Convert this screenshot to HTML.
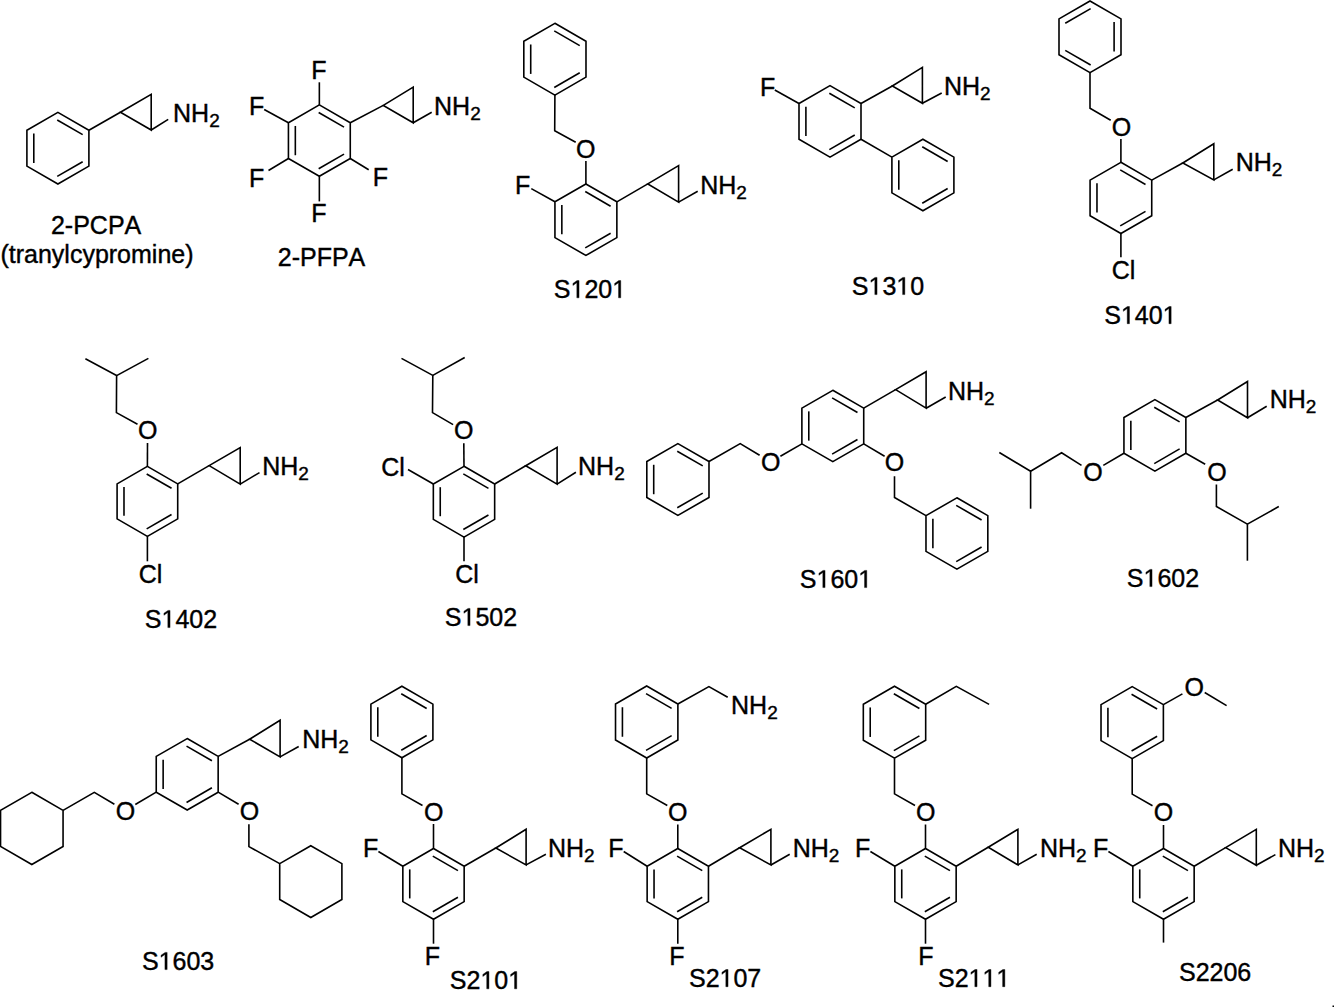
<!DOCTYPE html>
<html><head><meta charset="utf-8"><style>
html,body{margin:0;padding:0;background:#fff;}
svg{display:block;}
text{font-family:"Liberation Sans",sans-serif;fill:#000;font-kerning:none;stroke:#000;stroke-width:0.4px;}
</style></head><body>
<svg width="1334" height="1007" viewBox="0 0 1334 1007">
<rect width="1334" height="1007" fill="#fff"/>
<rect x="1332.5" y="1005.5" width="1.5" height="1.5" fill="#000"/>
<g fill="none" stroke="#000" stroke-width="1.6" stroke-linecap="butt" stroke-linejoin="miter">
<polygon points="57.90,112.40 88.90,130.30 88.90,166.10 57.90,184.00 26.90,166.10 26.90,130.30"/>
<line x1="57.24" y1="119.99" x2="82.66" y2="134.66"/>
<line x1="82.66" y1="161.74" x2="57.24" y2="176.41"/>
<line x1="33.80" y1="162.88" x2="33.80" y2="133.52"/>
<line x1="88.90" y1="130.30" x2="120.40" y2="112.30"/>
<polygon points="120.40,112.30 151.20,94.30 151.20,130.00"/>
<line x1="151.20" y1="130.00" x2="168.20" y2="119.40"/>
<polygon points="319.35,104.90 350.27,122.75 350.27,158.45 319.35,176.30 288.43,158.45 288.43,122.75"/>
<line x1="318.68" y1="112.48" x2="344.03" y2="127.12"/>
<line x1="344.03" y1="154.08" x2="318.68" y2="168.72"/>
<line x1="295.33" y1="155.24" x2="295.33" y2="125.96"/>
<line x1="350.27" y1="122.75" x2="383.30" y2="105.40"/>
<polygon points="383.30,105.40 413.20,87.10 413.20,122.80"/>
<line x1="413.20" y1="122.80" x2="431.70" y2="112.30"/>
<line x1="319.35" y1="104.90" x2="319.35" y2="82.30"/>
<line x1="288.43" y1="122.75" x2="264.20" y2="109.50"/>
<line x1="288.43" y1="158.45" x2="268.50" y2="170.50"/>
<line x1="319.35" y1="176.30" x2="319.35" y2="201.40"/>
<line x1="350.27" y1="158.45" x2="368.70" y2="169.70"/>
<polygon points="585.90,183.95 616.86,201.82 616.86,237.57 585.90,255.45 554.94,237.57 554.94,201.82"/>
<line x1="585.24" y1="191.53" x2="610.62" y2="206.19"/>
<line x1="610.62" y1="233.21" x2="585.24" y2="247.87"/>
<line x1="561.84" y1="234.36" x2="561.84" y2="205.04"/>
<polygon points="554.90,23.30 585.99,41.25 585.99,77.15 554.90,95.10 523.81,77.15 523.81,41.25"/>
<line x1="554.25" y1="30.89" x2="579.74" y2="45.61"/>
<line x1="579.74" y1="72.79" x2="554.25" y2="87.51"/>
<line x1="530.71" y1="73.92" x2="530.71" y2="44.48"/>
<polyline points="554.90,95.10 554.70,130.70 575.70,142.30"/>
<line x1="585.90" y1="161.00" x2="585.90" y2="183.95"/>
<line x1="554.94" y1="201.82" x2="531.30" y2="188.60"/>
<line x1="616.86" y1="201.82" x2="647.80" y2="183.90"/>
<polygon points="647.80,183.90 678.60,165.60 678.60,202.10"/>
<line x1="678.60" y1="202.10" x2="697.70" y2="191.20"/>
<polygon points="830.00,85.60 861.00,103.50 861.00,139.30 830.00,157.20 799.00,139.30 799.00,103.50"/>
<line x1="829.34" y1="93.19" x2="854.76" y2="107.86"/>
<line x1="854.76" y1="134.94" x2="829.34" y2="149.61"/>
<line x1="805.90" y1="136.08" x2="805.90" y2="106.72"/>
<line x1="799.00" y1="103.50" x2="774.80" y2="90.00"/>
<line x1="861.00" y1="103.50" x2="892.30" y2="86.00"/>
<polygon points="892.30,86.00 922.40,67.40 922.40,103.30"/>
<line x1="922.40" y1="103.30" x2="941.70" y2="93.00"/>
<polygon points="922.90,139.20 953.90,157.10 953.90,192.90 922.90,210.80 891.90,192.90 891.90,157.10"/>
<line x1="922.24" y1="146.79" x2="947.66" y2="161.46"/>
<line x1="947.66" y1="188.54" x2="922.24" y2="203.21"/>
<line x1="898.80" y1="189.68" x2="898.80" y2="160.32"/>
<line x1="861.00" y1="139.30" x2="891.90" y2="157.10"/>
<polygon points="1090.00,1.00 1121.00,18.90 1121.00,54.70 1090.00,72.60 1059.00,54.70 1059.00,18.90"/>
<line x1="1065.24" y1="23.26" x2="1090.66" y2="8.59"/>
<line x1="1114.10" y1="22.12" x2="1114.10" y2="51.48"/>
<line x1="1090.66" y1="65.01" x2="1065.24" y2="50.34"/>
<polyline points="1090.00,72.60 1090.00,108.30 1110.70,120.30"/>
<polygon points="1120.90,162.30 1151.73,180.10 1151.73,215.70 1120.90,233.50 1090.07,215.70 1090.07,180.10"/>
<line x1="1120.22" y1="169.88" x2="1145.51" y2="184.47"/>
<line x1="1145.51" y1="211.33" x2="1120.22" y2="225.92"/>
<line x1="1096.97" y1="212.50" x2="1096.97" y2="183.30"/>
<line x1="1120.90" y1="139.00" x2="1120.90" y2="162.30"/>
<line x1="1120.90" y1="233.50" x2="1120.90" y2="257.30"/>
<line x1="1151.73" y1="180.10" x2="1182.80" y2="163.00"/>
<polygon points="1182.80,163.00 1213.80,143.70 1213.80,179.90"/>
<line x1="1213.80" y1="179.90" x2="1232.70" y2="169.20"/>
<polygon points="147.40,466.40 177.71,483.90 177.71,518.90 147.40,536.40 117.09,518.90 117.09,483.90"/>
<line x1="146.68" y1="473.95" x2="171.53" y2="488.30"/>
<line x1="171.53" y1="514.50" x2="146.68" y2="528.85"/>
<line x1="123.99" y1="515.75" x2="123.99" y2="487.05"/>
<line x1="147.50" y1="443.00" x2="147.40" y2="466.40"/>
<polyline points="137.50,424.30 116.40,412.60 116.60,375.60 85.40,358.80"/>
<line x1="116.60" y1="375.60" x2="148.40" y2="358.40"/>
<line x1="147.40" y1="536.40" x2="147.40" y2="561.30"/>
<line x1="177.71" y1="483.90" x2="209.10" y2="465.60"/>
<polygon points="209.10,465.60 240.20,447.60 240.20,484.10"/>
<line x1="240.20" y1="484.10" x2="259.50" y2="472.60"/>
<polygon points="464.00,466.30 494.66,484.00 494.66,519.40 464.00,537.10 433.34,519.40 433.34,484.00"/>
<line x1="463.31" y1="473.87" x2="488.45" y2="488.38"/>
<line x1="488.45" y1="515.02" x2="463.31" y2="529.53"/>
<line x1="440.24" y1="516.21" x2="440.24" y2="487.19"/>
<line x1="463.80" y1="443.30" x2="464.00" y2="466.30"/>
<polyline points="453.10,424.60 432.50,412.60 432.80,375.40 401.50,358.40"/>
<line x1="432.80" y1="375.40" x2="464.70" y2="357.50"/>
<line x1="433.34" y1="484.00" x2="408.00" y2="469.50"/>
<line x1="464.00" y1="537.10" x2="464.00" y2="561.30"/>
<line x1="494.66" y1="484.00" x2="525.70" y2="465.70"/>
<polygon points="525.70,465.70 557.10,447.30 557.10,484.10"/>
<line x1="557.10" y1="484.10" x2="575.90" y2="472.30"/>
<polygon points="832.80,390.30 863.72,408.15 863.72,443.85 832.80,461.70 801.88,443.85 801.88,408.15"/>
<line x1="832.13" y1="397.88" x2="857.48" y2="412.52"/>
<line x1="857.48" y1="439.48" x2="832.13" y2="454.12"/>
<line x1="808.78" y1="440.64" x2="808.78" y2="411.36"/>
<line x1="863.72" y1="408.15" x2="895.60" y2="389.60"/>
<polygon points="895.60,389.60 926.10,371.70 926.10,408.20"/>
<line x1="926.10" y1="408.20" x2="945.70" y2="397.00"/>
<line x1="801.88" y1="443.85" x2="780.40" y2="456.30"/>
<polygon points="677.90,443.60 708.99,461.55 708.99,497.45 677.90,515.40 646.81,497.45 646.81,461.55"/>
<line x1="677.25" y1="451.19" x2="702.74" y2="465.91"/>
<line x1="702.74" y1="493.09" x2="677.25" y2="507.81"/>
<line x1="653.71" y1="494.22" x2="653.71" y2="464.78"/>
<polyline points="759.60,455.30 740.20,443.60 708.99,461.55"/>
<line x1="863.72" y1="443.85" x2="884.60" y2="456.30"/>
<polygon points="956.90,497.80 987.82,515.65 987.82,551.35 956.90,569.20 925.98,551.35 925.98,515.65"/>
<line x1="956.23" y1="505.38" x2="981.58" y2="520.02"/>
<line x1="981.58" y1="546.98" x2="956.23" y2="561.62"/>
<line x1="932.88" y1="548.14" x2="932.88" y2="518.86"/>
<polyline points="894.50,476.20 894.50,497.50 925.98,515.65"/>
<polygon points="1154.90,399.65 1185.86,417.52 1185.86,453.27 1154.90,471.15 1123.94,453.27 1123.94,417.52"/>
<line x1="1154.24" y1="407.23" x2="1179.62" y2="421.89"/>
<line x1="1179.62" y1="448.91" x2="1154.24" y2="463.57"/>
<line x1="1130.84" y1="450.06" x2="1130.84" y2="420.74"/>
<line x1="1185.86" y1="417.52" x2="1217.60" y2="400.00"/>
<polygon points="1217.60,400.00 1247.50,381.50 1247.50,417.80"/>
<line x1="1247.50" y1="417.80" x2="1266.70" y2="406.20"/>
<line x1="1123.94" y1="453.27" x2="1103.30" y2="465.40"/>
<polyline points="1081.50,465.40 1061.60,452.80 1030.60,471.30 999.30,452.50"/>
<line x1="1030.60" y1="471.30" x2="1030.60" y2="508.70"/>
<line x1="1185.86" y1="453.27" x2="1205.20" y2="464.30"/>
<polyline points="1216.40,484.50 1216.40,506.50 1247.40,524.20 1278.80,506.50"/>
<line x1="1247.40" y1="524.20" x2="1247.40" y2="560.70"/>
<polygon points="187.20,738.55 218.16,756.42 218.16,792.17 187.20,810.05 156.24,792.17 156.24,756.42"/>
<line x1="186.54" y1="746.13" x2="211.92" y2="760.79"/>
<line x1="211.92" y1="787.81" x2="186.54" y2="802.47"/>
<line x1="163.14" y1="788.96" x2="163.14" y2="759.64"/>
<line x1="218.16" y1="756.42" x2="249.60" y2="739.20"/>
<polygon points="249.60,739.20 280.10,720.20 280.10,756.90"/>
<line x1="280.10" y1="756.90" x2="298.70" y2="746.50"/>
<line x1="156.24" y1="792.17" x2="135.30" y2="804.50"/>
<polygon points="31.80,792.30 63.06,810.35 63.06,846.45 31.80,864.50 0.54,846.45 0.54,810.35"/>
<polyline points="114.40,804.30 94.30,792.40 63.06,810.35"/>
<line x1="218.16" y1="792.17" x2="238.60" y2="804.30"/>
<polygon points="310.80,845.70 341.89,863.65 341.89,899.55 310.80,917.50 279.71,899.55 279.71,863.65"/>
<polyline points="248.90,824.20 248.90,846.60 279.71,863.65"/>
<polygon points="401.90,686.20 432.90,704.10 432.90,739.90 401.90,757.80 370.90,739.90 370.90,704.10"/>
<line x1="401.24" y1="693.79" x2="426.66" y2="708.46"/>
<line x1="426.66" y1="735.54" x2="401.24" y2="750.21"/>
<line x1="377.80" y1="736.68" x2="377.80" y2="707.32"/>
<polyline points="401.90,757.80 401.90,793.90 422.50,805.50"/>
<polygon points="433.50,848.50 464.16,866.20 464.16,901.60 433.50,919.30 402.84,901.60 402.84,866.20"/>
<line x1="432.81" y1="856.07" x2="457.95" y2="870.58"/>
<line x1="457.95" y1="897.22" x2="432.81" y2="911.73"/>
<line x1="409.74" y1="898.41" x2="409.74" y2="869.39"/>
<line x1="433.50" y1="824.00" x2="433.50" y2="848.50"/>
<line x1="402.84" y1="866.20" x2="378.40" y2="851.50"/>
<line x1="433.50" y1="919.30" x2="433.50" y2="943.70"/>
<line x1="464.16" y1="866.20" x2="495.80" y2="848.00"/>
<polygon points="495.80,848.00 526.10,829.30 526.10,864.90"/>
<line x1="526.10" y1="864.90" x2="545.90" y2="854.30"/>
<polygon points="646.70,686.00 677.88,704.00 677.88,740.00 646.70,758.00 615.52,740.00 615.52,704.00"/>
<line x1="646.06" y1="693.60" x2="671.62" y2="708.36"/>
<line x1="671.62" y1="735.64" x2="646.06" y2="750.40"/>
<line x1="622.42" y1="736.76" x2="622.42" y2="707.24"/>
<polyline points="677.88,704.00 708.90,686.60 727.70,697.30"/>
<polyline points="646.70,758.00 646.70,793.90 667.30,805.50"/>
<polygon points="677.80,848.50 708.46,866.20 708.46,901.60 677.80,919.30 647.14,901.60 647.14,866.20"/>
<line x1="677.11" y1="856.07" x2="702.25" y2="870.58"/>
<line x1="702.25" y1="897.22" x2="677.11" y2="911.73"/>
<line x1="654.04" y1="898.41" x2="654.04" y2="869.39"/>
<line x1="677.80" y1="824.50" x2="677.80" y2="848.50"/>
<line x1="647.14" y1="866.20" x2="623.70" y2="851.50"/>
<line x1="677.80" y1="919.30" x2="677.80" y2="943.70"/>
<line x1="708.46" y1="866.20" x2="739.60" y2="847.70"/>
<polygon points="739.60,847.70 770.90,829.30 770.90,865.00"/>
<line x1="770.90" y1="865.00" x2="789.70" y2="854.30"/>
<polygon points="894.50,686.20 925.68,704.20 925.68,740.20 894.50,758.20 863.32,740.20 863.32,704.20"/>
<line x1="893.86" y1="693.80" x2="919.42" y2="708.56"/>
<line x1="919.42" y1="735.84" x2="893.86" y2="750.60"/>
<line x1="870.22" y1="736.96" x2="870.22" y2="707.44"/>
<polyline points="925.68,704.20 956.30,686.40 989.10,704.40"/>
<polyline points="894.50,758.20 894.50,793.90 915.00,805.50"/>
<polygon points="925.50,848.50 956.16,866.20 956.16,901.60 925.50,919.30 894.84,901.60 894.84,866.20"/>
<line x1="924.81" y1="856.07" x2="949.95" y2="870.58"/>
<line x1="949.95" y1="897.22" x2="924.81" y2="911.73"/>
<line x1="901.74" y1="898.41" x2="901.74" y2="869.39"/>
<line x1="925.50" y1="824.50" x2="925.50" y2="848.50"/>
<line x1="894.84" y1="866.20" x2="870.40" y2="851.50"/>
<line x1="925.50" y1="919.30" x2="925.50" y2="943.70"/>
<line x1="956.16" y1="866.20" x2="988.20" y2="847.20"/>
<polygon points="988.20,847.20 1017.90,829.30 1017.90,864.90"/>
<line x1="1017.90" y1="864.90" x2="1036.70" y2="854.30"/>
<polygon points="1132.20,686.60 1163.38,704.60 1163.38,740.60 1132.20,758.60 1101.02,740.60 1101.02,704.60"/>
<line x1="1131.56" y1="694.20" x2="1157.12" y2="708.96"/>
<line x1="1157.12" y1="736.24" x2="1131.56" y2="751.00"/>
<line x1="1107.92" y1="737.36" x2="1107.92" y2="707.84"/>
<line x1="1163.38" y1="704.60" x2="1182.40" y2="693.90"/>
<line x1="1204.70" y1="692.50" x2="1226.60" y2="705.60"/>
<polyline points="1132.20,758.60 1132.20,794.10 1152.50,805.70"/>
<polygon points="1163.50,848.50 1194.16,866.20 1194.16,901.60 1163.50,919.30 1132.84,901.60 1132.84,866.20"/>
<line x1="1162.81" y1="856.07" x2="1187.95" y2="870.58"/>
<line x1="1187.95" y1="897.22" x2="1162.81" y2="911.73"/>
<line x1="1139.74" y1="898.41" x2="1139.74" y2="869.39"/>
<line x1="1163.50" y1="825.00" x2="1163.50" y2="848.50"/>
<line x1="1132.84" y1="866.20" x2="1108.40" y2="851.50"/>
<line x1="1163.50" y1="919.30" x2="1163.50" y2="942.60"/>
<line x1="1194.16" y1="866.20" x2="1225.60" y2="847.60"/>
<polygon points="1225.60,847.60 1256.30,829.30 1256.30,865.30"/>
<line x1="1256.30" y1="865.30" x2="1275.40" y2="854.60"/>
</g>
<g>
<text x="173.05" y="122.30" font-size="25">NH<tspan font-size="19" dy="5.0">2</tspan></text>
<text x="50.94" y="234.00" font-size="25">2-PCPA</text>
<text x="0.45" y="263.00" font-size="25">(tranylcypromine)</text>
<text x="434.05" y="114.50" font-size="25">NH<tspan font-size="19" dy="5.0">2</tspan></text>
<text x="311.24" y="79.30" font-size="25">F</text>
<text x="248.95" y="114.60" font-size="25">F</text>
<text x="248.95" y="186.50" font-size="25">F</text>
<text x="311.34" y="221.50" font-size="25">F</text>
<text x="372.85" y="185.90" font-size="25">F</text>
<text x="277.74" y="265.60" font-size="25">2-PFPA</text>
<text x="575.88" y="157.51" font-size="25">O</text>
<text x="514.95" y="194.30" font-size="25">F</text>
<text x="700.25" y="193.50" font-size="25">NH<tspan font-size="19" dy="5.0">2</tspan></text>
<text x="553.86" y="297.80" font-size="25">S 20 </text>
<text x="759.95" y="96.00" font-size="25">F</text>
<text x="943.95" y="95.30" font-size="25">NH<tspan font-size="19" dy="5.0">2</tspan></text>
<text x="851.86" y="294.60" font-size="25">S 3 0</text>
<text x="1111.78" y="136.11" font-size="25">O</text>
<text x="1111.63" y="278.80" font-size="25">Cl</text>
<text x="1235.65" y="171.40" font-size="25">NH<tspan font-size="19" dy="5.0">2</tspan></text>
<text x="1104.26" y="323.70" font-size="25">S 40 </text>
<text x="137.88" y="439.21" font-size="25">O</text>
<text x="138.73" y="583.20" font-size="25">Cl</text>
<text x="262.25" y="475.30" font-size="25">NH<tspan font-size="19" dy="5.0">2</tspan></text>
<text x="144.86" y="627.60" font-size="25">S 402</text>
<text x="454.08" y="439.31" font-size="25">O</text>
<text x="381.23" y="475.60" font-size="25">Cl</text>
<text x="455.13" y="583.20" font-size="25">Cl</text>
<text x="578.05" y="475.30" font-size="25">NH<tspan font-size="19" dy="5.0">2</tspan></text>
<text x="444.86" y="625.60" font-size="25">S 502</text>
<text x="947.95" y="399.80" font-size="25">NH<tspan font-size="19" dy="5.0">2</tspan></text>
<text x="760.88" y="471.21" font-size="25">O</text>
<text x="884.68" y="471.11" font-size="25">O</text>
<text x="799.86" y="587.60" font-size="25">S 60 </text>
<text x="1269.75" y="408.40" font-size="25">NH<tspan font-size="19" dy="5.0">2</tspan></text>
<text x="1083.28" y="480.81" font-size="25">O</text>
<text x="1207.18" y="480.81" font-size="25">O</text>
<text x="1126.86" y="586.60" font-size="25">S 602</text>
<text x="302.15" y="748.10" font-size="25">NH<tspan font-size="19" dy="5.0">2</tspan></text>
<text x="115.78" y="820.01" font-size="25">O</text>
<text x="239.78" y="819.91" font-size="25">O</text>
<text x="141.96" y="969.60" font-size="25">S 603</text>
<text x="423.88" y="821.11" font-size="25">O</text>
<text x="362.95" y="856.50" font-size="25">F</text>
<text x="424.85" y="964.50" font-size="25">F</text>
<text x="547.95" y="856.50" font-size="25">NH<tspan font-size="19" dy="5.0">2</tspan></text>
<text x="449.86" y="988.80" font-size="25">S2 0 </text>
<text x="731.05" y="714.30" font-size="25">NH<tspan font-size="19" dy="5.0">2</tspan></text>
<text x="668.08" y="821.11" font-size="25">O</text>
<text x="608.25" y="856.50" font-size="25">F</text>
<text x="669.25" y="964.50" font-size="25">F</text>
<text x="792.75" y="856.50" font-size="25">NH<tspan font-size="19" dy="5.0">2</tspan></text>
<text x="688.96" y="986.70" font-size="25">S2 07</text>
<text x="915.88" y="821.11" font-size="25">O</text>
<text x="854.95" y="856.50" font-size="25">F</text>
<text x="918.25" y="964.50" font-size="25">F</text>
<text x="1039.95" y="856.50" font-size="25">NH<tspan font-size="19" dy="5.0">2</tspan></text>
<text x="937.96" y="986.70" font-size="25">S2   </text>
<text x="1184.58" y="695.81" font-size="25">O</text>
<text x="1153.78" y="821.21" font-size="25">O</text>
<text x="1092.95" y="856.60" font-size="25">F</text>
<text x="1277.95" y="856.50" font-size="25">NH<tspan font-size="19" dy="5.0">2</tspan></text>
<text x="1178.96" y="981.40" font-size="25">S2206</text>
<path fill="#000" stroke="#000" stroke-width="0.4" d="M576.83,297.80 576.83,282.70 572.94,285.47 572.94,283.40 577.01,280.60 579.04,280.60 579.04,297.80Z"/>
<path fill="#000" stroke="#000" stroke-width="0.4" d="M618.54,297.80 618.54,282.70 614.66,285.47 614.66,283.40 618.72,280.60 620.75,280.60 620.75,297.80Z"/>
<path fill="#000" stroke="#000" stroke-width="0.4" d="M874.83,294.60 874.83,279.50 870.94,282.27 870.94,280.20 875.01,277.40 877.04,277.40 877.04,294.60Z"/>
<path fill="#000" stroke="#000" stroke-width="0.4" d="M902.63,294.60 902.63,279.50 898.75,282.27 898.75,280.20 902.82,277.40 904.84,277.40 904.84,294.60Z"/>
<path fill="#000" stroke="#000" stroke-width="0.4" d="M1127.23,323.70 1127.23,308.60 1123.34,311.37 1123.34,309.30 1127.41,306.50 1129.44,306.50 1129.44,323.70Z"/>
<path fill="#000" stroke="#000" stroke-width="0.4" d="M1168.94,323.70 1168.94,308.60 1165.06,311.37 1165.06,309.30 1169.12,306.50 1171.15,306.50 1171.15,323.70Z"/>
<path fill="#000" stroke="#000" stroke-width="0.4" d="M167.83,627.60 167.83,612.50 163.94,615.27 163.94,613.20 168.01,610.40 170.04,610.40 170.04,627.60Z"/>
<path fill="#000" stroke="#000" stroke-width="0.4" d="M467.83,625.60 467.83,610.50 463.94,613.27 463.94,611.20 468.01,608.40 470.04,608.40 470.04,625.60Z"/>
<path fill="#000" stroke="#000" stroke-width="0.4" d="M822.83,587.60 822.83,572.50 818.94,575.27 818.94,573.20 823.01,570.40 825.04,570.40 825.04,587.60Z"/>
<path fill="#000" stroke="#000" stroke-width="0.4" d="M864.54,587.60 864.54,572.50 860.66,575.27 860.66,573.20 864.72,570.40 866.75,570.40 866.75,587.60Z"/>
<path fill="#000" stroke="#000" stroke-width="0.4" d="M1149.83,586.60 1149.83,571.50 1145.94,574.27 1145.94,572.20 1150.01,569.40 1152.04,569.40 1152.04,586.60Z"/>
<path fill="#000" stroke="#000" stroke-width="0.4" d="M164.93,969.60 164.93,954.50 161.04,957.27 161.04,955.20 165.11,952.40 167.14,952.40 167.14,969.60Z"/>
<path fill="#000" stroke="#000" stroke-width="0.4" d="M486.73,988.80 486.73,973.70 482.85,976.47 482.85,974.40 486.91,971.60 488.94,971.60 488.94,988.80Z"/>
<path fill="#000" stroke="#000" stroke-width="0.4" d="M514.54,988.80 514.54,973.70 510.66,976.47 510.66,974.40 514.72,971.60 516.75,971.60 516.75,988.80Z"/>
<path fill="#000" stroke="#000" stroke-width="0.4" d="M725.83,986.70 725.83,971.60 721.95,974.37 721.95,972.30 726.01,969.50 728.04,969.50 728.04,986.70Z"/>
<path fill="#000" stroke="#000" stroke-width="0.4" d="M974.83,986.70 974.83,971.60 970.95,974.37 970.95,972.30 975.01,969.50 977.04,969.50 977.04,986.70Z"/>
<path fill="#000" stroke="#000" stroke-width="0.4" d="M988.73,986.70 988.73,971.60 984.85,974.37 984.85,972.30 988.92,969.50 990.94,969.50 990.94,986.70Z"/>
<path fill="#000" stroke="#000" stroke-width="0.4" d="M1002.64,986.70 1002.64,971.60 998.76,974.37 998.76,972.30 1002.82,969.50 1004.85,969.50 1004.85,986.70Z"/>
</g>
</svg>
</body></html>
